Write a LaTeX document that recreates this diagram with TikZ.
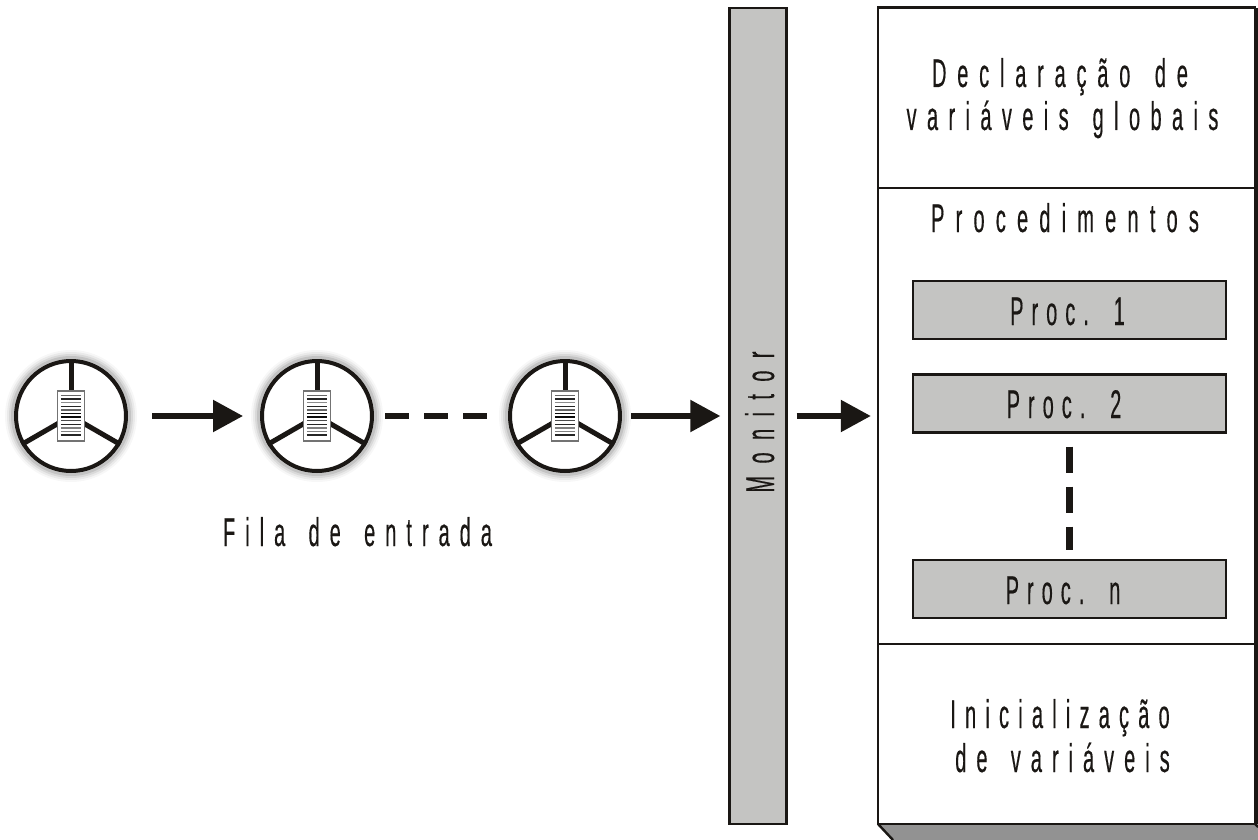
\documentclass[tikz,border=0pt]{standalone}
\usepackage{fontspec}
\usetikzlibrary{arrows.meta}
\newfontfamily\lblfont[FakeStretch=0.5,FakeBold=0.3,WordSpace=1.5]{Liberation Sans}
\newcommand{\lsp}[1]{\addfontfeature{LetterSpace=#1}}
\definecolor{ink}{HTML}{1A1714}
\definecolor{panel}{HTML}{C4C4C2}
\definecolor{sidegray}{HTML}{929292}
\tikzset{
  lbl/.style={font=\lblfont\fontsize{40}{46}\selectfont,text=ink,anchor=base,inner sep=0pt},
  box/.style={draw=ink,line width=2.4pt,fill=panel,inner sep=0pt},
  sect/.style={draw=ink,line width=2.4pt,fill=white,inner sep=0pt},
  arr/.style={draw=ink,line width=5.5pt,-{Triangle[length=30pt,width=31pt,fill=ink]}},
  dsh/.style={draw=ink,line width=5.5pt,dash pattern=on 24pt off 15pt},
  wheel/.style={circle,draw=ink,line width=4pt,fill=white,minimum size=110pt,inner sep=0pt},
  spoke/.style={draw=ink,line width=5pt},
  card/.style={draw=black!55,line width=1.1pt,fill=white,minimum width=27pt,minimum height=50pt,inner sep=0pt},
}
\newcommand{\wheelat}[3]{%
  \foreach \r/\o in {66/.03,64/.05,62/.07,60/.1}{\fill[black,opacity=\o] (#1,#2) circle (\r pt);}
  \node[wheel] (#3) at (#1,#2) {};
  \draw[spoke] (#3.90) -- (#1,#2);
  \draw[spoke] (#3.210) -- (#1,#2);
  \draw[spoke] (#3.330) -- (#1,#2);
  \node[card] (#3c) at (#1,#2) {};
  \foreach \k/\g in {0/60,1/85,2/45,3/85,4/60,5/95,6/95,7/70,8/85,9/50,10/50,11/85}{%
    \pgfmathsetlengthmacro{\dy}{-5pt-\k*3.6pt}%
    \draw[line width=1.5pt,draw=black!\g] ([xshift=4pt,yshift=\dy]#3c.north west) -- ([xshift=-4pt,yshift=\dy]#3c.north east);}
}
\begin{document}
\begin{tikzpicture}[x=1pt,y=-1pt]
\useasboundingbox (0,0) rectangle (1258,840);
\wheelat{71}{416}{w1}
\wheelat{317}{416}{w2}
\wheelat{565}{416}{w3}
\node[lbl] (fila) at (357.5,546) {\lsp{25}Fila de entrada};
% monitor
\node[box,minimum width=57pt,minimum height=816pt] (mon) at (758,416) {};
\node[lbl,rotate=90] (monl) at (774,422) {\lsp{31}Monitor};
% right column
\fill[sidegray] (878,824) -- (1258,824) -- (1258,840) -- (893,840) -- cycle;
\draw[ink,line width=2.4pt] (878,824) -- (893,840);
\draw[ink,line width=2.4pt] (1255,824) -- (1258,827);
\draw[ink,line width=2.4pt] (1257,8) -- (1257,824);
\node[sect,minimum width=377pt,minimum height=181pt] (decl) at (1066.5,98) {};
\node[sect,minimum width=377pt,minimum height=456pt] (proc) at (1066.5,416) {};
\node[sect,minimum width=377pt,minimum height=180pt] (init) at (1066.5,734) {};
\node[lbl] (decla) at (1060,87) {\lsp{27}Declaração de};
\node[lbl] (declb) at (1062.5,130) {\lsp{26}variáveis globais};
\node[lbl] (procl) at (1065,232) {\lsp{28}Procedimentos};
\node[lbl] (inita) at (1060,728) {\lsp{23}Inicialização};
\node[lbl] (initb) at (1062.5,772) {\lsp{25}de variáveis};
\node[box,minimum width=313pt,minimum height=58pt] (p1) at (1069.5,310) {};
\node[box,minimum width=313pt,minimum height=58pt] (p2) at (1069.5,403.5) {};
\node[box,minimum width=313pt,minimum height=58pt] (pn) at (1069.5,589) {};
\node[lbl] (p1l) at (1067.5,325) {\lsp{20}Proc. 1};
\node[lbl] (p2l) at (1064,418) {\lsp{20}Proc. 2};
\node[lbl] (pnl) at (1063,604) {\lsp{20}Proc. n};
% connectors
\draw[arr] ([xshift=24pt]w1.east) -- ([xshift=-17pt]w2.west);
\draw[dsh] ([xshift=11pt]w2.east) -- ([xshift=-18pt]w3.west);
\draw[arr] ([xshift=9pt]w3.east) -- ([xshift=-8pt]mon.west |- w3);
\draw[arr] ([xshift=9pt]mon.east |- w3) -- ([xshift=-6pt]decl.west |- w3);
\draw[draw=ink,line width=7pt,dash pattern=on 26pt off 14pt] ([yshift=-13pt]p2.south) -- ([yshift=9pt]pn.north);
\end{tikzpicture}
\end{document}
